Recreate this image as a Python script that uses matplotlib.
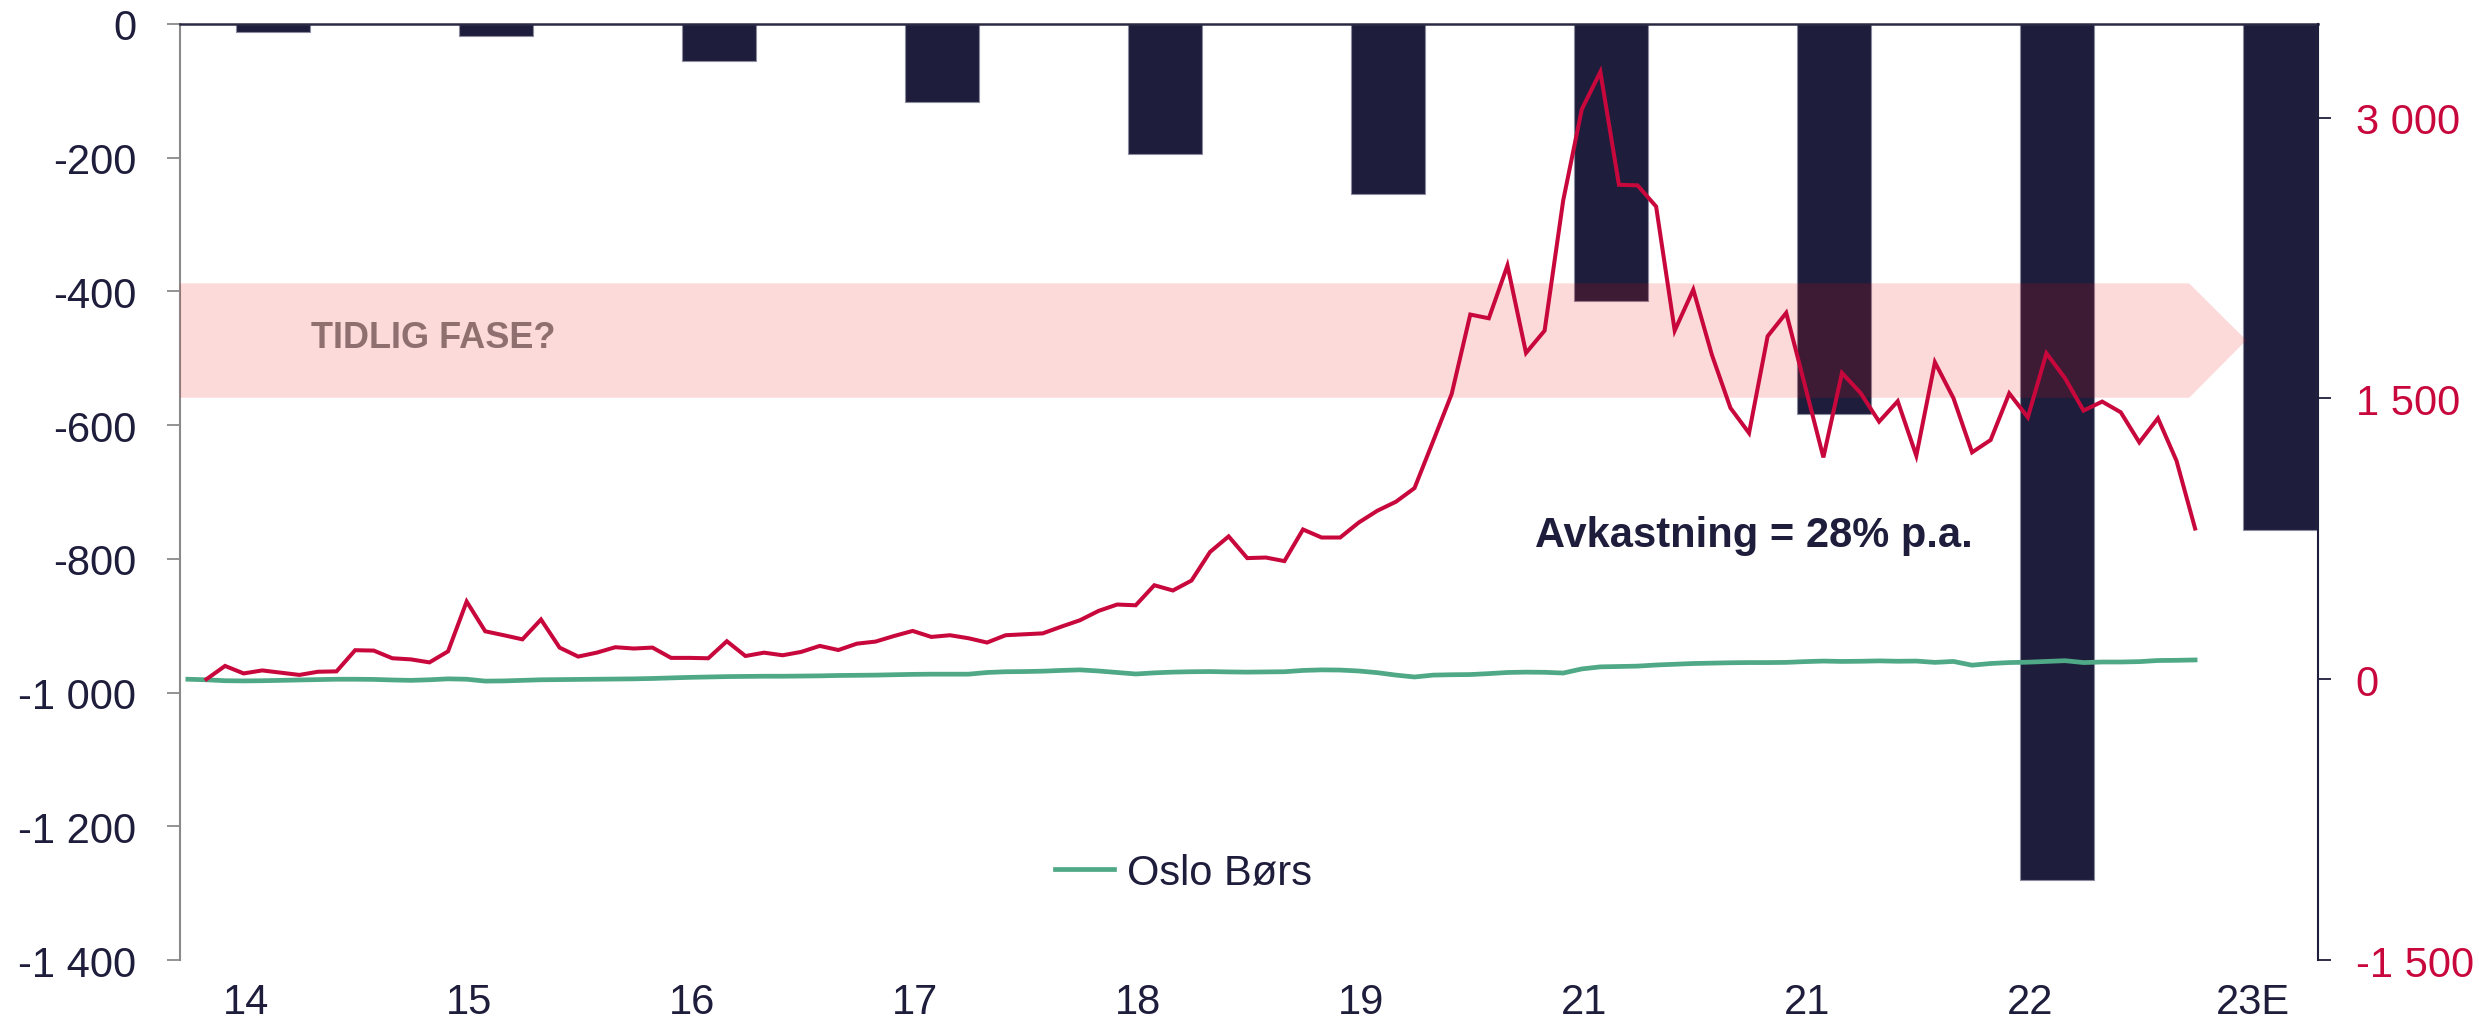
import numpy as np
import matplotlib
matplotlib.use("Agg")
import matplotlib.pyplot as plt
from matplotlib.patches import Polygon
from matplotlib.ticker import FuncFormatter

plt.rcParams['font.family'] = ['Liberation Sans', 'DejaVu Sans']

navy = '#1E1E3C'
crimson = '#C8083C'
green = '#4FA886'

# Søyler (venstre akse)
years = ['14', '15', '16', '17', '18', '19', '21', '21', '22', '23E']
bar_values = [-12, -18, -55, -117, -195, -254, -415, -583, -1280, -757]

# Månedlige linjer (høyre akse)
red_values = [0, 71, 31, 47, 35, 23, 40, 42, 155, 153, 112, 106, 90, 149, 415, 256, 235, 213,
              319, 169, 121, 142, 171, 164, 169, 114, 114, 112, 203, 124, 142, 128, 146, 178,
              156, 190, 201, 231, 258, 226, 235, 219, 196, 235, 240, 245, 281, 315, 365, 399,
              395, 502, 474, 527, 680, 763, 647, 650, 631, 800, 757, 757, 837, 900, 948, 1021,
              1271, 1524, 1948, 1928, 2210, 1743, 1862, 2557, 3044, 3244, 2641, 2638, 2525, 1862,
              2081, 1733, 1449, 1315, 1832, 1957, 1572, 1185, 1636, 1529, 1376, 1485, 1194, 1693,
              1501, 1212, 1278, 1527, 1399, 1741, 1608, 1435, 1483, 1426, 1265, 1394, 1167, 805]
oslo_values = [0, -3, -8, -9, -8, -6, -4, -2, 0, 0, -1, -4, -6, -3, 2, 0, -10, -9, -6, -3,
               -2, -1, 0, 1, 2, 4, 7, 10, 12, 14, 15, 16, 16, 17, 18, 20, 21, 22, 24, 26,
               27, 27, 27, 36, 40, 41, 43, 47, 50, 44, 36, 28, 34, 38, 40, 41, 39, 38, 39, 40,
               47, 50, 49, 44, 35, 22, 12, 22, 24, 25, 30, 36, 38, 37, 33, 55, 66, 68, 70, 76,
               80, 84, 86, 88, 89, 89, 90, 94, 97, 95, 96, 98, 96, 97, 90, 95, 75, 84, 89, 91,
               95, 99, 89, 92, 92, 94, 100, 101, 103]

x_bars = np.arange(len(years))
x_oslo = -0.3816 + np.arange(len(oslo_values)) / 12
x_red = x_oslo[1:]

fig = plt.figure(figsize=(24.79, 10.20), dpi=100)
ax = fig.add_axes([0.0726, 0.0578, 0.8625, 0.9177])
ax2 = ax.twinx()

ax.bar(x_bars, bar_values, width=0.3345, color=navy, edgecolor='#8c8ca0', linewidth=0.8, zorder=2)
ax.set_xlim(-0.417, 9.17)
ax.set_ylim(-1400, 0)
ax.set_yticks(np.arange(-1400, 1, 200))

# Pil for "tidlig fase"
band = Polygon([[-0.417, -388], [8.592, -388], [8.848, -473], [8.592, -559], [-0.417, -559]],
               closed=True, facecolor=(0.94, 0.04, 0.04), alpha=0.15, edgecolor='none', zorder=3)
ax.add_patch(band)
ax.text(0.0613, 0.6547, 'TIDLIG FASE?', transform=ax.transAxes, fontsize=26, fontweight='bold',
        color='#8f6f70', va='baseline', ha='left', zorder=4)
ax.text(0.6338, 0.4422, 'Avkastning = 28% p.a.', transform=ax.transAxes, fontsize=30,
        fontweight='bold', color=navy, va='baseline', ha='left', zorder=4)

ax2.plot(x_red, red_values, color=crimson, linewidth=2.9, solid_joinstyle='miter', zorder=5)
ax2.plot(x_oslo, oslo_values, color=green, linewidth=3.4, label='Oslo Børs', zorder=4)
ax2.set_ylim(-1500, 3500)
ax2.set_yticks([-1500, 0, 1500, 3000])


def space_fmt(v, pos):
    s = f'{abs(int(round(v))):,}'.replace(',', ' ')
    return ('-' if v < 0 else '') + s


ax.yaxis.set_major_formatter(FuncFormatter(space_fmt))
ax2.yaxis.set_major_formatter(FuncFormatter(space_fmt))

# X-etiketter litt til venstre for søylene
ax.set_xticks(x_bars - 0.121)
ax.set_xticklabels(years)
ax.tick_params(axis='x', length=0, pad=16, labelsize=30, labelcolor=navy)
ax.tick_params(axis='y', length=9.4, width=1.3, color='#8a8a8a', pad=22, labelsize=30, labelcolor=navy)
ax2.tick_params(axis='y', length=9, width=1.3, color=navy, pad=18, labelsize=30, labelcolor=crimson)

for a in (ax, ax2):
    a.spines['bottom'].set_visible(False)
    a.spines['top'].set_visible(False)
ax.spines['top'].set_visible(True)
ax.spines['top'].set_color('#2a2a44')
ax.spines['top'].set_linewidth(1.8)
ax.spines['left'].set_color('#8a8a8a')
ax.spines['left'].set_linewidth(1.5)
ax.spines['right'].set_visible(False)
ax2.spines['left'].set_visible(False)
ax2.spines['right'].set_color(navy)
ax2.spines['right'].set_linewidth(1.5)

ax2.legend(loc='center left', bbox_to_anchor=(1055 / 2479, 1 - 874 / 1020),
           bbox_transform=fig.transFigure, frameon=False, fontsize=30, handlelength=1.42,
           handletextpad=0.3, borderpad=0, borderaxespad=0, labelcolor=navy)

fig.savefig('out.png', dpi=100)
